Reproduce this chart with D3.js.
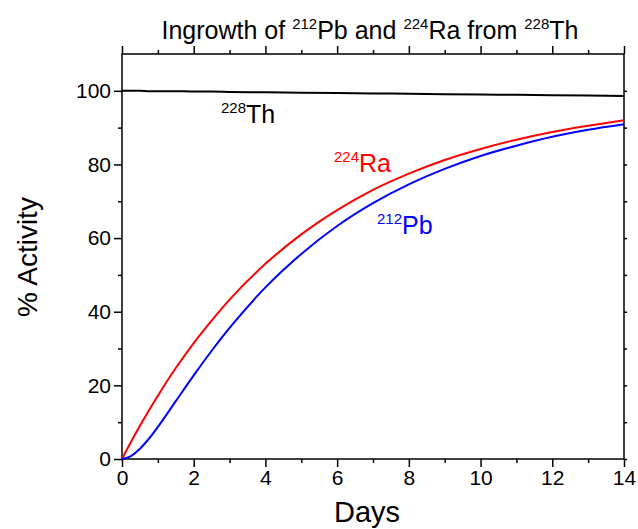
<!DOCTYPE html>
<html>
<head>
<meta charset="utf-8">
<script src="https://cdn.jsdelivr.net/npm/d3@7"></script>
<style>
  body { margin: 0; background: #fff; }
  svg { display: block; font-family: "Liberation Sans", Arial, sans-serif; }
</style>
</head>
<body>
<svg id="chart" width="638" height="529"></svg>
<script>
// values (days, % activity)
const days    = [0, 0.25, 0.5, 0.75, 1, 1.5, 2, 2.5, 3, 4, 5, 6, 7, 8, 9, 10, 11, 12, 13, 14];
const th228   = [100, 100, 100, 99.9, 99.9, 99.9, 99.8, 99.8, 99.7, 99.6, 99.5, 99.4, 99.3, 99.2, 99.1, 99.0, 98.9, 98.8, 98.7, 98.6];
const ra224   = [0, 4.6, 9.0, 13.2, 17.2, 24.7, 31.5, 37.6, 43.3, 53.0, 61.0, 67.6, 73.1, 77.5, 81.2, 84.2, 86.7, 88.8, 90.5, 92.0];
const pb212   = [0, 0.8, 2.8, 5.5, 8.7, 15.7, 22.7, 29.4, 35.6, 46.6, 55.7, 63.3, 69.5, 74.6, 78.8, 82.3, 85.1, 87.5, 89.4, 90.9];
const xTicks  = [0, 2, 4, 6, 8, 10, 12, 14];
const yTicks  = [0, 20, 40, 60, 80, 100];

const svg = d3.select("#chart");
const m = { left: 122, right: 624, top: 54, bottom: 459 };

const x = d3.scaleLinear().domain([0, 14]).range([m.left, m.right]);
const y = d3.scaleLinear().domain([0, 110]).range([m.bottom, m.top]);

const minorX = d3.range(1, 14, 2);
const minorY = d3.range(10, 110, 20);

function styleAxis(g) {
  g.select(".domain").remove();
  g.selectAll("line").attr("stroke", "#000").attr("stroke-width", 1.5);
  g.selectAll("text").attr("font-size", 21).attr("fill", "#000");
}

// bottom
svg.append("g").attr("transform", `translate(0,${m.bottom})`)
  .call(d3.axisBottom(x).tickValues(xTicks).tickSize(8).tickPadding(3).tickFormat(d3.format("d")))
  .call(styleAxis);
svg.append("g").attr("transform", `translate(0,${m.bottom})`)
  .call(d3.axisBottom(x).tickValues(minorX).tickSize(4).tickFormat(""))
  .call(styleAxis);
// top
svg.append("g").attr("transform", `translate(0,${m.top})`)
  .call(d3.axisTop(x).tickValues(xTicks).tickSize(8).tickFormat(""))
  .call(styleAxis);
svg.append("g").attr("transform", `translate(0,${m.top})`)
  .call(d3.axisTop(x).tickValues(minorX).tickSize(4).tickFormat(""))
  .call(styleAxis);
// left
svg.append("g").attr("transform", `translate(${m.left},0)`)
  .call(d3.axisLeft(y).tickValues(yTicks).tickSize(8).tickPadding(3).tickFormat(d3.format("d")))
  .call(styleAxis);
svg.append("g").attr("transform", `translate(${m.left},0)`)
  .call(d3.axisLeft(y).tickValues(minorY).tickSize(4).tickFormat(""))
  .call(styleAxis);
// right
svg.append("g").attr("transform", `translate(${m.right},0)`)
  .call(d3.axisRight(y).tickValues(yTicks.concat(minorY)).tickSize(3).tickFormat(""))
  .call(styleAxis);

// frame
svg.append("rect")
  .attr("x", m.left).attr("y", m.top)
  .attr("width", m.right - m.left).attr("height", m.bottom - m.top)
  .attr("fill", "none").attr("stroke", "#000").attr("stroke-width", 1.5);

const series = [
  { vals: th228, color: "#000" },
  { vals: ra224, color: "#ff0000" },
  { vals: pb212, color: "#0000ff" }
];
const line = d3.line().x(d => x(d[0])).y(d => y(d[1])).curve(d3.curveMonotoneX);
series.forEach(s => {
  svg.append("path")
    .datum(days.map((d, i) => [d, s.vals[i]]))
    .attr("fill", "none")
    .attr("stroke", s.color)
    .attr("stroke-width", 2)
    .attr("d", line);
});

// isotope labels
function isoLabel(px, py, mass, el, color, size) {
  const t = svg.append("text").attr("x", px).attr("y", py).attr("fill", color).attr("font-size", size);
  t.append("tspan").attr("font-size", size * 0.6).attr("dy", -size * 0.42).text(mass);
  t.append("tspan").attr("dy", size * 0.42).text(el);
  return t;
}
isoLabel(221, 123, "228", "Th", "#000", 25);
isoLabel(334, 172, "224", "Ra", "#ff0000", 25);
isoLabel(377, 234, "212", "Pb", "#0000ff", 25);

// title
const title = svg.append("text").attr("x", 370).attr("y", 39)
  .attr("text-anchor", "middle").attr("font-size", 25).attr("fill", "#000");
[["", "Ingrowth of "], ["212", "Pb and "], ["224", "Ra from "], ["228", "Th"]].forEach(([sup, txt]) => {
  if (sup) {
    title.append("tspan").attr("font-size", 15).attr("dy", -10).text(sup);
    title.append("tspan").attr("dy", 10).text(txt);
  } else {
    title.append("tspan").text(txt);
  }
});

// axis titles
svg.append("text").attr("x", 367).attr("y", 522)
  .attr("text-anchor", "middle").attr("font-size", 29).text("Days");
svg.append("text")
  .attr("transform", "translate(37,257) rotate(-90)")
  .attr("text-anchor", "middle").attr("font-size", 28).text("% Activity");
</script>
</body>
</html>
